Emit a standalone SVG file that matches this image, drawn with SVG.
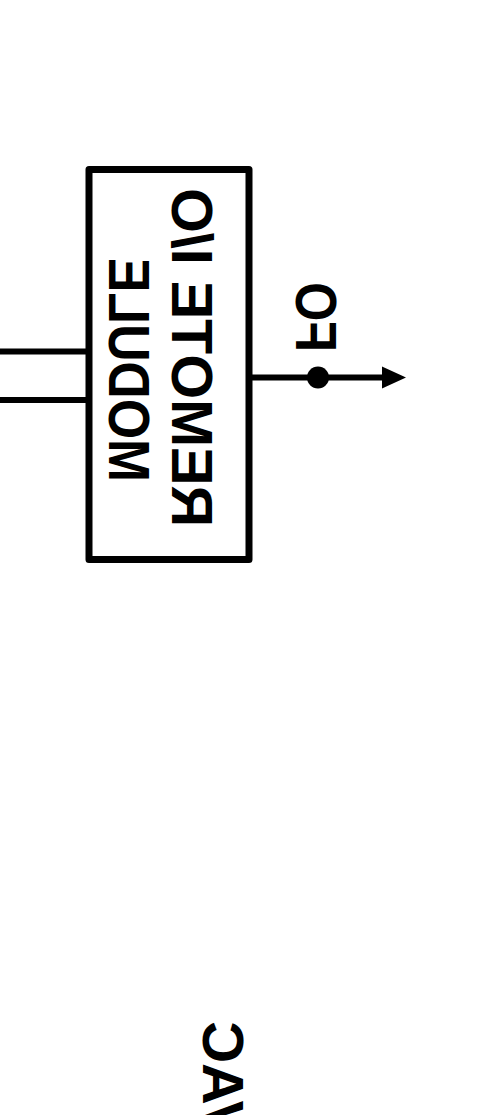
<svg xmlns="http://www.w3.org/2000/svg" width="496" height="1115" viewBox="0 0 496 1115">
  <style>
    .ln { fill: none; stroke: #000; stroke-width: 6; }
    .box { fill: #fff; stroke: #000; stroke-width: 7; stroke-linejoin: round; }
    .lbl { font-family: "Liberation Sans", Arial, sans-serif; font-weight: bold; font-size: 58px; fill: #000; }
  </style>
  <defs>
    <marker id="arrow" markerUnits="userSpaceOnUse" markerWidth="26" markerHeight="26" refX="4" refY="13" orient="auto" overflow="visible">
      <path d="M0,2 L24,13 L0,24 Z" fill="#000"/>
    </marker>
  </defs>
  <rect width="496" height="1115" fill="#fff"/>
  <g id="connectors">
    <line class="ln" x1="0" y1="351.5" x2="89" y2="351.5"/>
    <line class="ln" x1="0" y1="400" x2="89" y2="400"/>
    <line class="ln" x1="249" y1="377.5" x2="386" y2="377.5" marker-end="url(#arrow)"/>
    <circle cx="318" cy="377.5" r="11" fill="#000"/>
  </g>
  <g id="remote-io-module">
    <rect class="box" x="89" y="169.5" width="160" height="390"/>
    <text class="lbl" transform="matrix(0,-1,-1,0,172,527)" x="0" y="0" textLength="339" lengthAdjust="spacingAndGlyphs">REMOTE I/O</text>
    <text class="lbl" transform="matrix(0,-1,-1,0,109,482)" x="0" y="0" textLength="224" lengthAdjust="spacingAndGlyphs">MODULE</text>
  </g>
  <g id="fo-label">
    <text class="lbl" transform="matrix(0,-1,-1,0,296,352)" x="0" y="0" textLength="70" lengthAdjust="spacingAndGlyphs">FO</text>
  </g>
  <g id="vac-label">
    <text class="lbl" transform="matrix(0,-1,-1,0,203,1021)" x="0" y="0" text-anchor="end">VAC</text>
  </g>
</svg>
